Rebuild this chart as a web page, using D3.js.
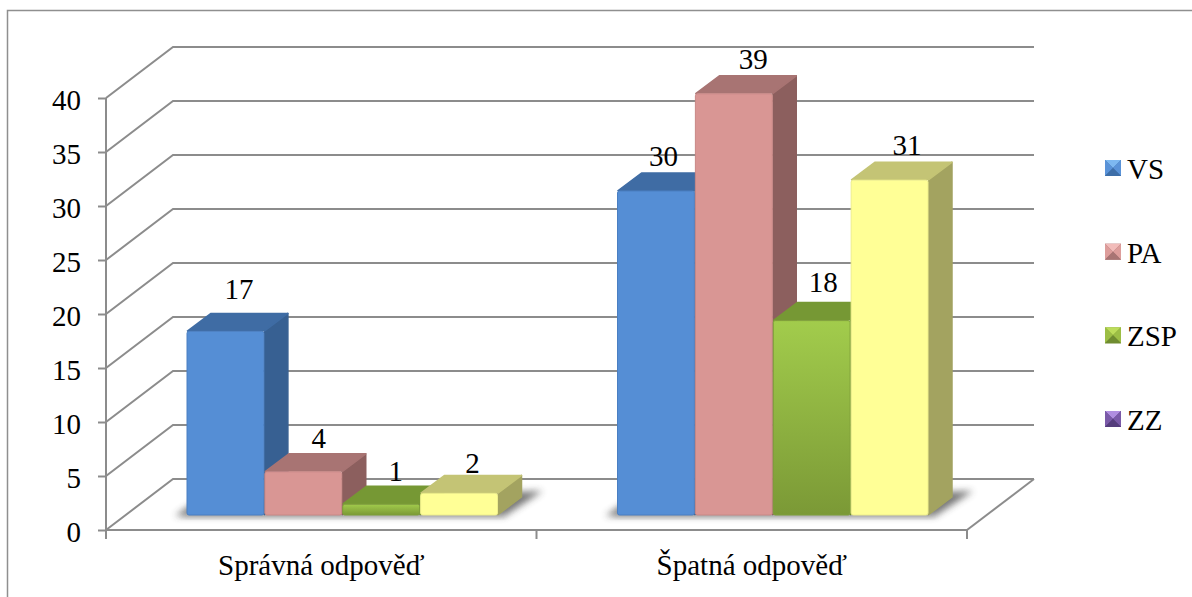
<!DOCTYPE html>
<html>
<head>
<meta charset="utf-8">
<script src="https://cdn.jsdelivr.net/npm/d3@7"></script>
<style>
  html, body { margin: 0; padding: 0; background: #fff; }
  svg { display: block; }
  text { font-family: "Liberation Serif", serif; fill: #000; }
</style>
</head>
<body>
<svg id="chart" width="1192" height="597"></svg>
<script>
// Answer counts per group of respondents
const categories = ["Správná odpověď", "Špatná odpověď"];
const seriesNames = ["VS", "PA", "ZSP", "ZZ"];
const vsValues = [17, 30];
const paValues = [4, 39];
const zspValues = [1, 18];
const zzValues = [2, 31];
const yTicks = [0, 5, 10, 15, 20, 25, 30, 35, 40];

const seriesValues = [vsValues, paValues, zspValues, zzValues];

// Face colours of the extruded columns
const faceStyles = [
  { front: "#558ed5", side: "#376092", top: "#3f6ca4", edge: "#4a7fc2" },
  { front: "#d99694", side: "#8c5f5e", top: "#a87473", edge: "#c98886" },
  { front: "url(#greenFront)", side: "#6c8a2f", top: "#769834", edge: "#7f9f3a" },
  { front: "#ffff96", side: "#a3a360", top: "#c4c475", edge: "#eeee8c" }
];
// Pyramid-shaped legend keys: light, mid, dark
const legendKeys = [
  ["#7db8f0", "#5a93d8", "#3d6ea8"],
  ["#f2bcba", "#dd9d9b", "#a87473"],
  ["#bcdc5a", "#9cbe45", "#6f8c30"],
  ["#b08ee0", "#7a5aa8", "#553d7c"]
];

const fontSize = "29px";
const svg = d3.select("#chart");
const axisColor = "#8c8c8c";

// Plot geometry: front plane of the box and its 3D depth
const left = 106, right = 967, bottom = 530, topY = 98;
const wallDx = 67, wallDy = -51;
const barDx = 24, barDy = -18, floorGap = 15;
const groupInsetLeft = 81, groupInsetRight = 38;

const y = d3.scaleLinear().domain([0, 40]).range([bottom, topY]);
const x0 = d3.scaleBand().domain(categories).range([left, right]);
const x1 = d3.scaleBand().domain(seriesNames)
  .range([groupInsetLeft, x0.bandwidth() - groupInsetRight]);

const defs = svg.append("defs");
const grad = defs.append("linearGradient").attr("id", "greenFront")
  .attr("x1", 0).attr("y1", 0).attr("x2", 0).attr("y2", 1);
grad.append("stop").attr("offset", "0%").attr("stop-color", "#a2cc4c");
grad.append("stop").attr("offset", "100%").attr("stop-color", "#7b9936");
defs.append("filter").attr("id", "soft")
  .attr("x", "-20%").attr("y", "-100%").attr("width", "140%").attr("height", "300%")
  .append("feGaussianBlur").attr("stdDeviation", 3.5);

// Outer frame: only top and left edges are visible
svg.append("path")
  .attr("d", "M7.5,597V10.5H1192")
  .attr("fill", "none").attr("stroke", "#8f8f8f").attr("stroke-width", 1.5);

// Back wall gridlines with their diagonal returns to the axis
const grid = svg.append("g").attr("fill", "none").attr("stroke", axisColor).attr("stroke-width", 2);
grid.selectAll("path").data(yTicks).join("path")
  .attr("d", d => d3.line()([
    [left, y(d)],
    [left + wallDx, y(d) + wallDy],
    [right + wallDx, y(d) + wallDy]
  ]));
grid.append("path").attr("d", d3.line()([
  [right, bottom],
  [right + wallDx, bottom + wallDy]
]));

// Floor shadows thrown by each cluster of columns
const shadows = svg.append("g");
categories.forEach(c => {
  const l = x0(c) + x1.range()[0];
  const r = x0(c) + x1.range()[1];
  const fl = bottom - floorGap;
  shadows.append("path")
    .attr("d", d3.line()([
      [l - 12, fl + 1], [l + 8, fl - 13], [r + barDx + 20, fl - 24], [r + 6, fl + 1]
    ]))
    .attr("fill", "#3c3c3c").attr("opacity", 0.7).attr("filter", "url(#soft)");
  shadows.append("rect")
    .attr("x", l - 4).attr("y", fl - 1).attr("width", r - l + 10).attr("height", 3)
    .attr("fill", "#9a9a9a").attr("opacity", 0.7).attr("filter", "url(#soft)");
});

// Columns are painted left to right so each one covers its neighbour's side
const barGroups = svg.append("g");
categories.forEach((c, ci) => {
  seriesNames.forEach((s, si) => {
    const v = seriesValues[si][ci];
    const st = faceStyles[si];
    const xa = x0(c) + x1(s);
    const xb = xa + x1.bandwidth() - 1;
    const h = y(0) - y(v);
    const yb = bottom - floorGap;
    const yt = yb - h;
    const g = barGroups.append("g").attr("stroke-linejoin", "round");
    g.append("path")
      .attr("d", d3.line()([[xb, yt], [xb + barDx, yt + barDy], [xb + barDx, yb + barDy], [xb, yb]]))
      .attr("fill", st.side).attr("stroke", st.side).attr("stroke-width", 1.5);
    g.append("path")
      .attr("d", d3.line()([[xa, yt], [xa + barDx, yt + barDy], [xb + barDx, yt + barDy], [xb, yt]]))
      .attr("fill", st.top).attr("stroke", st.top).attr("stroke-width", 1.5);
    g.append("rect")
      .attr("x", xa).attr("y", yt).attr("width", xb - xa).attr("height", h)
      .attr("rx", 2).attr("fill", st.front).attr("stroke", st.edge).attr("stroke-width", 1);
  });
});

// Value labels above each column; small offsets keep them clear of the neighbours
const labelShift = {
  "VS0": [1, -7], "PA0": [3, 1], "ZSP0": [2, 2], "ZZ0": [1, 5],
  "VS1": [-5, 0], "PA1": [7, 0], "ZSP1": [-1, -3.5], "ZZ1": [5, 0]
};
const labels = svg.append("g").attr("text-anchor", "middle").style("font-size", fontSize);
categories.forEach((c, ci) => {
  seriesNames.forEach((s, si) => {
    const v = seriesValues[si][ci];
    const cx = x0(c) + x1(s) + (x1.bandwidth() + barDx) / 2;
    const [dx, dy] = labelShift[s + ci];
    labels.append("text")
      .attr("x", cx + dx)
      .attr("y", bottom - floorGap - (y(0) - y(v)) + barDy - 7 + dy)
      .text(v);
  });
});

// Value axis
const yAxis = svg.append("g").attr("transform", `translate(${left},0)`)
  .call(d3.axisLeft(y).tickValues(yTicks).tickSize(8).tickPadding(17));
yAxis.selectAll("path").remove();
yAxis.append("line").attr("y1", y(0)).attr("y2", y(40));
yAxis.selectAll("line").attr("stroke", axisColor).attr("stroke-width", 2);
yAxis.selectAll("text").style("font-size", fontSize).attr("dy", "0.39em");

// Category axis, ticks sit on the band boundaries
const xAxis = svg.append("g").attr("transform", `translate(0,${bottom})`)
  .call(d3.axisBottom(x0).tickSize(0).tickPadding(24));
xAxis.selectAll("path").remove();
xAxis.append("line").attr("x1", left).attr("x2", right);
const bandEdges = [...categories.map(c => x0(c)), right];
xAxis.selectAll("line.edge").data(bandEdges).join("line").attr("class", "edge")
  .attr("x1", d => d).attr("x2", d => d).attr("y1", 0).attr("y2", 9);
xAxis.selectAll("line").attr("stroke", axisColor).attr("stroke-width", 2);
xAxis.selectAll(".tick text").style("font-size", fontSize).attr("dy", "0.71em");

// Legend
const legendY = d3.scalePoint().domain(seriesNames).range([168, 419]);
const keySize = 16, keyX = 1105;
const legend = svg.append("g");
seriesNames.forEach((s, i) => {
  const ky = legendY(s) - keySize / 2;
  const [light, mid, dark] = legendKeys[i];
  const k = legend.append("g").attr("transform", `translate(${keyX},${ky})`);
  const m = keySize / 2;
  const tri = (a, b, fill) => k.append("path")
    .attr("d", d3.line()([a, b, [m, m]]) + "Z").attr("fill", fill);
  k.append("rect").attr("width", keySize).attr("height", keySize).attr("fill", dark);
  tri([0, 0], [keySize, 0], light);
  tri([0, 0], [0, keySize], mid);
  tri([keySize, 0], [keySize, keySize], mid);
  tri([0, keySize], [keySize, keySize], dark);
  legend.append("text")
    .attr("x", keyX + keySize + 6).attr("y", legendY(s) + 11)
    .style("font-size", fontSize).text(s);
});
</script>
</body>
</html>
